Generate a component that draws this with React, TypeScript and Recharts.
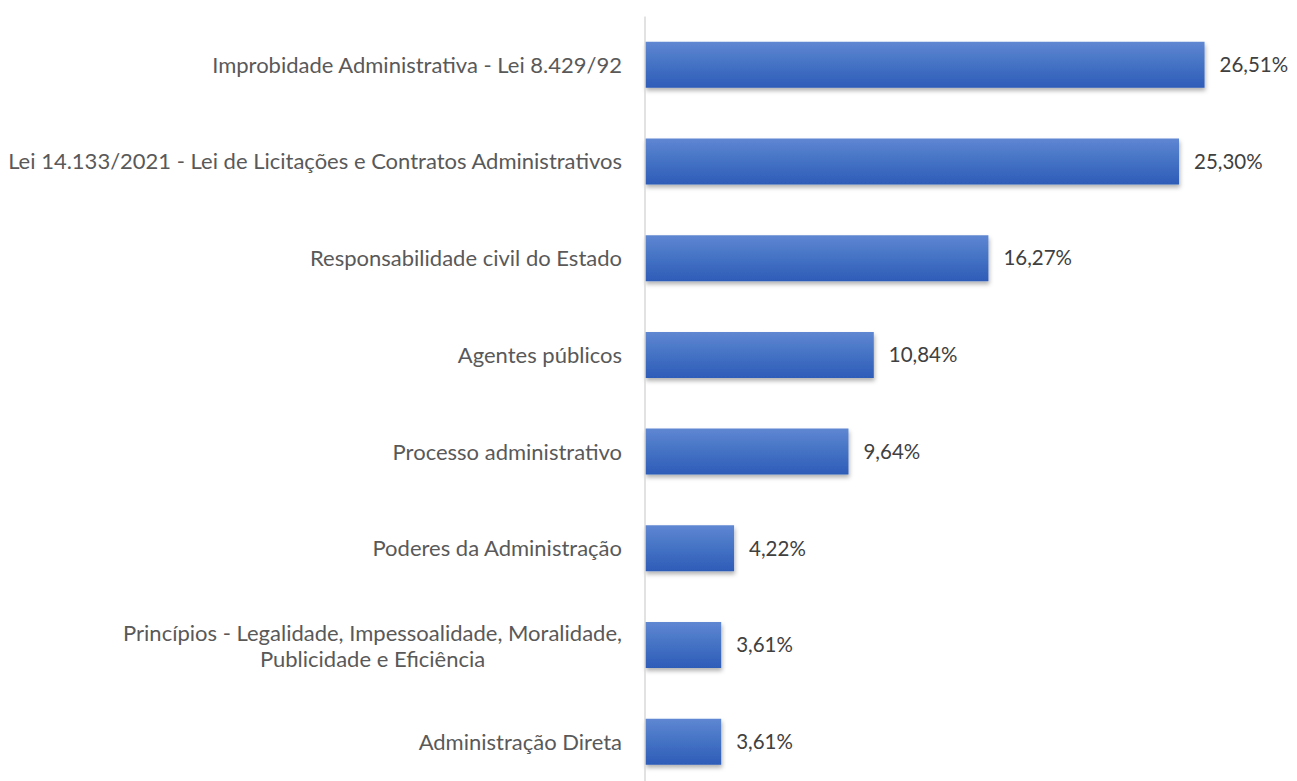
import React from "react";
import { BarChart, Bar, XAxis, YAxis, LabelList } from "recharts";

const categories = [
  "Improbidade Administrativa - Lei 8.429/92",
  "Lei 14.133/2021 - Lei de Licitações e Contratos Administrativos",
  "Responsabilidade civil do Estado",
  "Agentes públicos",
  "Processo administrativo",
  "Poderes da Administração",
  "Princípios - Legalidade, Impessoalidade, Moralidade,\nPublicidade e Eficiência",
  "Administração Direta",
];
const values = [26.51, 25.3, 16.27, 10.84, 9.64, 4.22, 3.61, 3.61];

const data = categories.map((name, i) => ({ name, value: values[i] }));

const FONT = "Lato, 'Open Sans', sans-serif";
const FS = 22;

let ctx: CanvasRenderingContext2D | null = null;
function measure(t: string): number {
  if (!ctx) {
    const c = document.createElement("canvas");
    ctx = c.getContext("2d");
  }
  if (!ctx) return t.length * 10;
  ctx.font = `${FS}px Lato`;
  return ctx.measureText(t).width;
}

const CategoryTick = (props: any) => {
  const { x, y, payload } = props;
  const lines = String(payload.value).split("\n");
  if (lines.length === 1) {
    return (
      <text x={x} y={y} dy="0.35em" textAnchor="end" fill="#595959" fontSize={FS} fontFamily={FONT}>
        {lines[0]}
      </text>
    );
  }
  const w = Math.max(...lines.map(measure));
  const cx = x - w / 2;
  const lh = 26;
  const start = y - ((lines.length - 1) * lh) / 2 + 1;
  return (
    <text x={cx} y={start} textAnchor="middle" fill="#595959" fontSize={FS} fontFamily={FONT}>
      {lines.map((l, i) => (
        <tspan key={i} x={cx} y={start + i * lh} dy="0.35em">
          {l}
        </tspan>
      ))}
    </text>
  );
};

const fmt = (v: any) => `${Number(v).toFixed(2).replace(".", ",")}%`;

export default function App() {
  return (
    <BarChart
      width={1289}
      height={790}
      data={data}
      layout="vertical"
      margin={{ top: 8.6, right: 61, bottom: 7.7, left: 0 }}
      barCategoryGap="26%"
      style={{ fontFamily: FONT }}
    >
      <defs>
        <linearGradient id="barGrad" x1="0" y1="0" x2="0" y2="1">
          <stop offset="0%" stopColor="#5F87D2" />
          <stop offset="50%" stopColor="#4472C4" />
          <stop offset="100%" stopColor="#2E5CB8" />
        </linearGradient>
        <filter id="shadow" x="-5%" y="-20%" width="110%" height="160%">
          <feDropShadow dx="1" dy="3" stdDeviation="2" floodColor="#000" floodOpacity="0.3" />
        </filter>
      </defs>
      <XAxis type="number" domain={[0, 28]} hide />
      <YAxis
        type="category"
        dataKey="name"
        width={637}
        tickLine={false}
        tickSize={0}
        tickMargin={23}
        axisLine={{ stroke: "#D9D9D9", strokeWidth: 1.5 }}
        tick={<CategoryTick />}
        interval={0}
      />
      <Bar dataKey="value" fill="url(#barGrad)" filter="url(#shadow)" isAnimationActive={false}>
        <LabelList
          dataKey="value"
          position="right"
          offset={15}
          formatter={fmt}
          fill="#404040"
          fontSize={20.5}
          fontFamily={FONT}
        />
      </Bar>
    </BarChart>
  );
}
